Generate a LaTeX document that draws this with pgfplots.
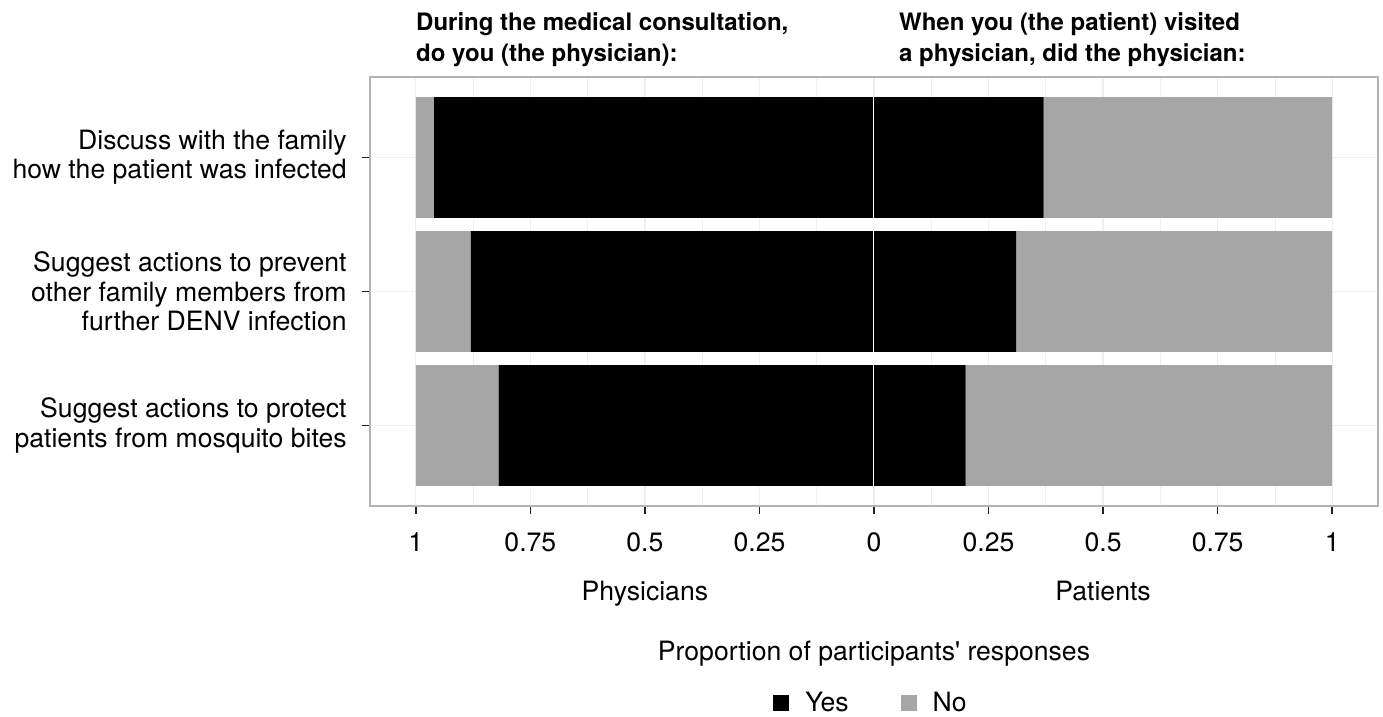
\documentclass[border=0pt]{standalone}
\usepackage{fontspec}
\setmainfont{TeX Gyre Heros}
\usepackage{pgfplots}
\usepackage{pgfplotstable}
\pgfplotsset{compat=1.18}

\definecolor{nogray}{HTML}{A6A6A6}
\definecolor{gridgray}{HTML}{EFEFEF}
\definecolor{framegray}{HTML}{B3B3B3}
\definecolor{tickgray}{HTML}{222222}

% proportions of Yes / No answers, category 1 = bottom row
\pgfplotstableread{
y yes no
1 0.819 0.181
2 0.880 0.120
3 0.960 0.040
}\physicians
\pgfplotstableread{
y yes no
1 0.200 0.800
2 0.310 0.690
3 0.370 0.630
}\patients

\newcommand{\txt}{\fontsize{13.3}{14.7}\selectfont}
\newcommand{\ttl}{\bfseries\fontsize{12}{13.5}\selectfont}

\begin{document}
\begin{tikzpicture}
\path[use as bounding box] (-185pt,-105.5pt) rectangle (506.5pt,253pt);
\pgfplotsset{
  common/.style={
    width=504pt, height=214.5pt, scale only axis,
    at={(0,0)}, anchor=south west,
    xmin=-1.1, xmax=1.1, ymin=0.4, ymax=3.6,
    xbar stacked, bar width=0.9,
  }
}
\begin{axis}[common,
    clip=false,
    axis line style={framegray, line width=0.6pt},
    xtick={-1,-0.75,-0.5,-0.25,0,0.25,0.5,0.75,1},
    xticklabels={1,0.75,0.5,0.25,0,0.25,0.5,0.75,1},
    minor xtick={-0.875,-0.625,-0.375,-0.125,0.125,0.375,0.625,0.875},
    ytick={1,2,3},
    yticklabels={Suggest actions to protect\\patients from mosquito bites,
                 Suggest actions to prevent\\other family members from\\further DENV infection,
                 Discuss with the family\\how the patient was infected},
    xmajorgrids, xminorgrids, ymajorgrids,
    major grid style={gridgray, line width=0.6pt},
    minor grid style={gridgray, line width=0.4pt},
    tick align=outside,
    major tick length=4pt, minor tick length=0pt,
    tick style={tickgray, line width=0.7pt},
    xtick pos=bottom, ytick pos=left,
    xticklabel style={font=\txt, anchor=base, yshift=-19pt},
    yticklabel style={font=\txt, align=right, anchor=east, inner sep=0pt, xshift=-7.5pt},
    xlabel={Proportion of participants\textquotesingle{} responses},
    every axis x label/.style={at={(axis description cs:0.5,0)}, anchor=base, yshift=-77pt, font=\txt},
    legend columns=2,
    legend style={draw=none, fill=none, font=\txt,
      at={(axis description cs:0.498,-0.459)}, anchor=center,
      /tikz/every even column/.append style={column sep=24pt}},
  ]
\addplot[fill=black, draw=none,
  legend image code/.code={\fill[black] (0pt,-4pt) rectangle (8pt,4pt); \path (14pt,0pt);}]
  table[x expr=-\thisrow{yes}, y=y]{\physicians};
\addlegendentry{Yes}
\addplot[fill=nogray, draw=none,
  legend image code/.code={\fill[nogray] (0pt,-4pt) rectangle (8pt,4pt); \path (14pt,0pt);}]
  table[x expr=-\thisrow{no}, y=y]{\physicians};
\addlegendentry{No}

\node[font=\txt, anchor=base] at (axis cs:-0.5,0.4) [yshift=-47pt] {Physicians};
\node[font=\txt, anchor=base] at (axis cs:0.5,0.4) [yshift=-47pt] {Patients};

\node[font=\ttl, anchor=base west, inner sep=0pt] at (axis cs:-1,3.6) [yshift=23.5pt] {During the medical consultation,};
\node[font=\ttl, anchor=base west, inner sep=0pt] at (axis cs:-1,3.6) [yshift=8pt] {do you (the physician):};
\node[font=\ttl, anchor=base west, inner sep=0pt] at (axis cs:0.054,3.6) [yshift=23.5pt] {When you (the patient) visited};
\node[font=\ttl, anchor=base west, inner sep=0pt] at (axis cs:0.054,3.6) [yshift=8pt] {a physician, did the physician:};
\end{axis}

\begin{axis}[common, hide axis]
\addplot[fill=black, draw=none] table[x=yes, y=y]{\patients};
\addplot[fill=nogray, draw=none] table[x=no, y=y]{\patients};
\draw[white, line width=1.2pt] (axis cs:0,0.55) -- (axis cs:0,3.45);
\end{axis}
\end{tikzpicture}
\end{document}
